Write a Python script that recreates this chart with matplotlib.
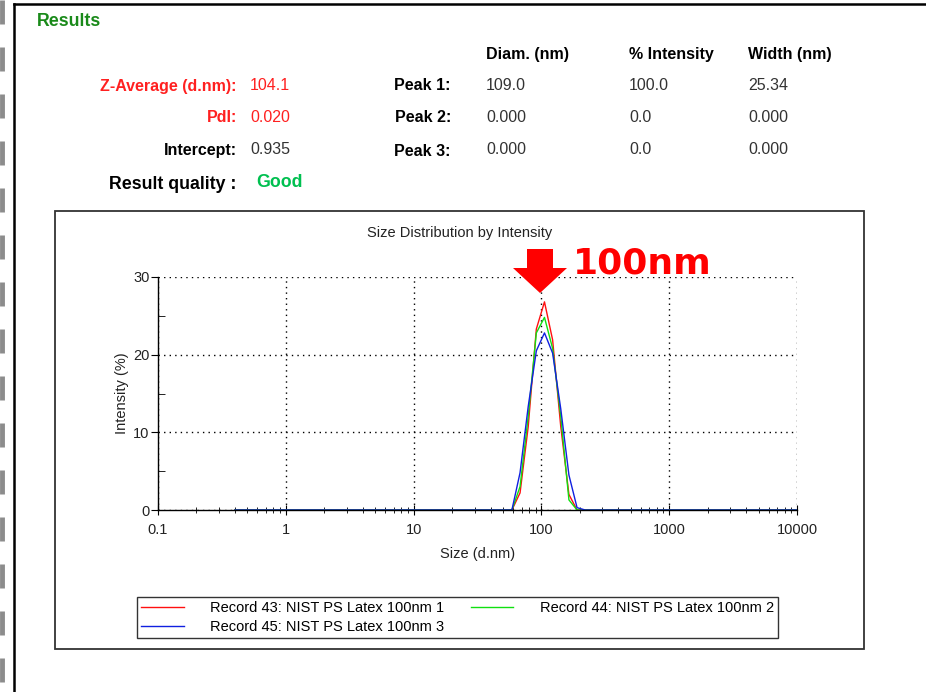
import matplotlib
matplotlib.use('Agg')
import matplotlib.pyplot as plt
from matplotlib.lines import Line2D
from matplotlib.patches import Rectangle, FancyArrow
from matplotlib.ticker import FixedLocator, LogLocator, FuncFormatter, NullFormatter

plt.rcParams['font.family'] = ['Liberation Sans', 'DejaVu Sans']

# size bins (d.nm)
sizes = [0.4000, 0.4632, 0.5365, 0.6213, 0.7195, 0.8332, 0.9649, 1.117, 1.294, 1.499,
         1.736, 2.010, 2.328, 2.696, 3.122, 3.615, 4.187, 4.849, 5.615, 6.503,
         7.531, 8.721, 10.10, 11.70, 13.54, 15.69, 18.17, 21.04, 24.36, 28.21,
         32.67, 37.84, 43.82, 50.75, 58.77, 68.06, 78.82, 91.28, 105.7, 122.4,
         141.8, 164.2, 190.1, 220.2, 255.0, 295.3, 342.0, 396.1, 458.7, 531.2,
         615.1, 712.4, 825.0, 955.4, 1106, 1281, 1484, 1718, 1990, 2305,
         2669, 3091, 3580, 4145, 4801, 5560, 6439, 7456, 8635, 10000]

rec43 = [0, 0, 0, 0, 0, 0, 0, 0, 0, 0,
         0, 0, 0, 0, 0, 0, 0, 0, 0, 0,
         0, 0, 0, 0, 0, 0, 0, 0, 0, 0,
         0, 0, 0, 0, 0, 2.2, 10.7, 23.3, 26.8, 21.9,
         10.7, 2.0, 0, 0, 0, 0, 0, 0, 0, 0,
         0, 0, 0, 0, 0, 0, 0, 0, 0, 0,
         0, 0, 0, 0, 0, 0, 0, 0, 0, 0]
rec44 = [0, 0, 0, 0, 0, 0, 0, 0, 0, 0,
         0, 0, 0, 0, 0, 0, 0, 0, 0, 0,
         0, 0, 0, 0, 0, 0, 0, 0, 0, 0,
         0, 0, 0, 0, 0, 3.0, 12.0, 22.8, 24.8, 20.8,
         12.0, 1.3, 0, 0, 0, 0, 0, 0, 0, 0,
         0, 0, 0, 0, 0, 0, 0, 0, 0, 0,
         0, 0, 0, 0, 0, 0, 0, 0, 0, 0]
rec45 = [0, 0, 0, 0, 0, 0, 0, 0, 0, 0,
         0, 0, 0, 0, 0, 0, 0, 0, 0, 0,
         0, 0, 0, 0, 0, 0, 0, 0, 0, 0,
         0, 0, 0, 0, 0, 4.8, 13.3, 20.5, 22.8, 20.2,
         13.0, 4.5, 0.3, 0, 0, 0, 0, 0, 0, 0,
         0, 0, 0, 0, 0, 0, 0, 0, 0, 0,
         0, 0, 0, 0, 0, 0, 0, 0, 0, 0]

record_names = ['Record 43: NIST PS Latex 100nm 1',
                'Record 44: NIST PS Latex 100nm 2',
                'Record 45: NIST PS Latex 100nm 3']

# result table
left_labels = ['Z-Average (d.nm):', 'PdI:', 'Intercept:']
left_values = ['104.1', '0.020', '0.935']
peak_labels = ['Peak 1:', 'Peak 2:', 'Peak 3:']
peak_headers = ['Diam. (nm)', '% Intensity', 'Width (nm)']
peak_diam = ['109.0', '0.000', '0.000']
peak_int = ['100.0', '0.0', '0.0']
peak_width = ['25.34', '0.000', '0.000']

W, H = 926, 692
fig = plt.figure(figsize=(W / 100, H / 100), dpi=100)


def fx(px):
    return px / W


def fy(py):
    return 1 - py / H


# page decoration: gray dashes at the left edge + black frame
for y0 in range(0, H, 47):
    fig.add_artist(Line2D([fx(2), fx(2)], [fy(y0), fy(min(y0 + 24, H))],
                          color='#8c8c8c', lw=3.5, solid_capstyle='butt'))
fig.add_artist(Line2D([fx(14.5), fx(14.5)], [fy(H), fy(4)], color='black', lw=1.8))
fig.add_artist(Line2D([fx(14.5), fx(W)], [fy(4), fy(4)], color='black', lw=1.8))

# results block
fs = 11.5
fig.text(fx(37), fy(21), 'Results', color='#1a8a1a', fontsize=12.8, fontweight='bold', va='center')
red = '#ff2020'
row_y = [86, 118, 151]
lab_colors = [red, red, 'black']
val_colors = [red, red, '#333333']
for i in range(3):
    fig.text(fx(237), fy(row_y[i]), left_labels[i], color=lab_colors[i], fontsize=fs,
             fontweight='bold', ha='right', va='center')
    fig.text(fx(250), fy(row_y[i] - 1), left_values[i], color=val_colors[i], fontsize=fs,
             va='center')
    fig.text(fx(451), fy(row_y[i]), peak_labels[i], color='black', fontsize=fs,
             fontweight='bold', ha='right', va='center')
    for xcol, vals in zip([486, 629, 748], [peak_diam, peak_int, peak_width]):
        fig.text(fx(xcol), fy(row_y[i] - 1), vals[i], color='#333333', fontsize=fs, va='center')
for xcol, hdr in zip([486, 629, 748], peak_headers):
    fig.text(fx(xcol), fy(54), hdr, color='black', fontsize=fs, fontweight='bold', va='center')
fig.text(fx(236), fy(185), 'Result quality :', color='black', fontsize=12.8,
         fontweight='bold', ha='right', va='center')
fig.text(fx(256), fy(182), 'Good', color='#00c050', fontsize=12.8, fontweight='bold', va='center')

# chart box
cfs = 10.5
fig.add_artist(Rectangle((fx(55), fy(649)), (864 - 55) / W, (649 - 211) / H,
                         transform=fig.transFigure, fill=False, ec='#333333', lw=1.3))
fig.text(fx(460), fy(233), 'Size Distribution by Intensity', fontsize=cfs,
         color='#222222', ha='center', va='center')

ax = fig.add_axes([fx(158), fy(510), (797 - 158) / W, (510 - 277) / H])
ax.plot(sizes, rec43, color='#ff1010', lw=1)
ax.plot(sizes, rec44, color='#10e010', lw=1)
ax.plot(sizes, rec45, color='#1020e0', lw=1)
ax.set_xscale('log')
ax.set_xlim(0.1, 10000)
ax.set_ylim(0, 30)

for s in ['top', 'right']:
    ax.spines[s].set_visible(False)
for s in ['left', 'bottom']:
    ax.spines[s].set_color('black')
    ax.spines[s].set_linewidth(1)

ax.yaxis.set_major_locator(FixedLocator([0, 10, 20, 30]))
ax.yaxis.set_minor_locator(FixedLocator([5, 15, 25]))
ax.xaxis.set_major_locator(FixedLocator([0.1, 1, 10, 100, 1000, 10000]))
ax.xaxis.set_minor_locator(LogLocator(base=10, subs=range(2, 10)))
ax.xaxis.set_minor_formatter(NullFormatter())
ax.xaxis.set_major_formatter(FuncFormatter(lambda v, p: '%g' % v))
ax.tick_params(axis='y', which='major', direction='out', length=5, labelsize=cfs,
               labelcolor='#222222', pad=1)
ax.tick_params(axis='y', which='minor', direction='in', length=5)
ax.tick_params(axis='x', which='major', direction='inout', length=7, labelsize=cfs,
               labelcolor='#222222', pad=6)
ax.tick_params(axis='x', which='minor', direction='inout', length=5)
ax.grid(True, which='major', color='black', linestyle=(0, (1, 3)), lw=1)

ax.set_xlabel('Size (d.nm)', fontsize=cfs, color='#222222', labelpad=7)
ax.set_ylabel('Intensity (%)', fontsize=cfs, color='#222222', labelpad=3)

# legend
handles = [Line2D([], [], color='#ff1010', lw=1), Line2D([], [], color='#1020e0', lw=1),
           Line2D([], [], color='#10e010', lw=1)]
labels = [record_names[0], record_names[2], record_names[1]]
leg = ax.legend(handles, labels, loc='upper left', ncol=2, mode='expand',
                bbox_to_anchor=(fx(137), fy(637), (778 - 137) / W, (637 - 597) / H),
                bbox_transform=fig.transFigure, borderaxespad=0, fancybox=False,
                edgecolor='#333333', framealpha=1, fontsize=cfs, handlelength=2.9,
                handletextpad=1.8, borderpad=0.3, labelspacing=0.3)
leg.get_frame().set_linewidth(1)

# peak annotation
fig.add_artist(FancyArrow(fx(540), fy(249), 0, -(293 - 249) / H, width=26 / W,
                          head_width=54 / W, head_length=(293 - 268) / H,
                          length_includes_head=True, transform=fig.transFigure,
                          color='#ff0000', lw=0))
fig.text(fx(573), fy(264), '100nm', color='#ff0000', fontsize=26, fontweight='bold',
         family=['DejaVu Sans'], va='center')

fig.savefig('out.png', dpi=100)
